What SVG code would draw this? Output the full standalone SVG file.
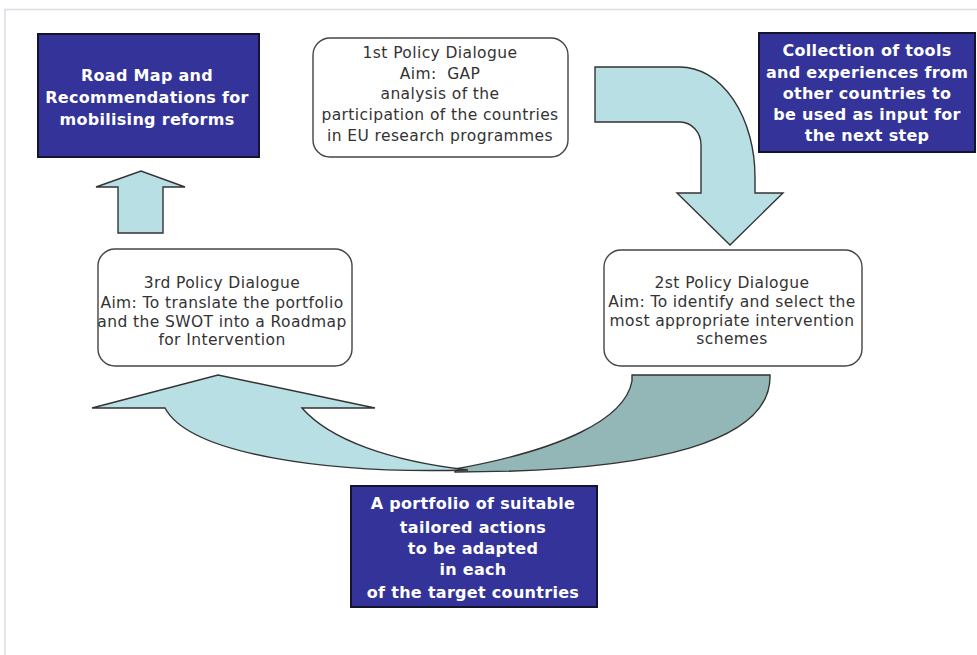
<svg xmlns="http://www.w3.org/2000/svg" width="977" height="655" viewBox="0 0 977 655">
<style>
.bg{fill:#ffffff}
.frame{fill:none;stroke:#d9dee6;stroke-width:1.5}
.blue{fill:#333399;stroke:#14142e;stroke-width:2}
.wt{font-family:"DejaVu Sans",sans-serif;font-weight:bold;font-size:16px;fill:#ffffff;text-anchor:middle;letter-spacing:0.3px}
.pd{fill:#ffffff;stroke:#444444;stroke-width:1.4}
.pt{font-family:"DejaVu Sans",sans-serif;font-size:15.5px;fill:#333333;text-anchor:middle;letter-spacing:0.4px}
.lt{fill:#b8dfe3;stroke:#333333;stroke-width:1.4;stroke-linejoin:miter}
.dk{fill:#93b6b7;stroke:#333333;stroke-width:1.4}
</style>
<rect class="bg" x="0" y="0" width="977" height="655"/>
<path class="frame" d="M5,655 L5,9.5 L977,9.5"/>

<g id="connectors">
  <polygon id="arrow-up" class="lt" points="118,233 118,187 96,187 141,171 185,187 163,187 163,233"/>
  <path id="arrow-down" class="lt" d="M595,67 L680,67 A75,110 0 0 1 755,177 L755,193 L783,193 L730,245 L677,193 L701,193 L701,145 A21,23 0 0 0 680,122 L595,122 Z"/>
  <path id="arrow-back-dark" class="dk" d="M455,469 C560,450 625,420 632,381 L632,375 L770,375 C772,440 660,472 455,472 Z"/>
  <path id="arrow-back-light" class="lt" d="M92,408 L218,375 L375,408 L302,408 C330,440 390,461 468,470 C330,474 190,455 165,408 Z"/>
</g>

<g id="node-roadmap">
  <rect class="blue" x="38" y="34" width="221" height="123"/>
  <text class="wt" x="147" y="81">Road Map and</text>
  <text class="wt" x="147" y="103">Recommendations for</text>
  <text class="wt" x="147" y="125">mobilising reforms</text>
</g>

<g id="node-pd1">
  <rect class="pd" x="313" y="38" width="255" height="119" rx="17"/>
  <text class="pt" x="440" y="58">1st Policy Dialogue</text>
  <text class="pt" x="440" y="79" xml:space="preserve">Aim:  GAP</text>
  <text class="pt" x="440" y="99">analysis of the</text>
  <text class="pt" x="440" y="120">participation of the countries</text>
  <text class="pt" x="440" y="141">in EU research programmes</text>
</g>

<g id="node-tools">
  <rect class="blue" x="759" y="33" width="216" height="119"/>
  <text class="wt" x="867" y="56">Collection of tools</text>
  <text class="wt" x="867" y="78">and experiences from</text>
  <text class="wt" x="867" y="99">other countries to</text>
  <text class="wt" x="867" y="120">be used as input for</text>
  <text class="wt" x="867" y="141">the next step</text>
</g>

<g id="node-pd3">
  <rect class="pd" x="98" y="249" width="254" height="117" rx="17"/>
  <text class="pt" x="222" y="288">3rd Policy Dialogue</text>
  <text class="pt" x="222" y="308">Aim: To translate the portfolio</text>
  <text class="pt" x="222" y="327">and the SWOT into a Roadmap</text>
  <text class="pt" x="222" y="345">for Intervention</text>
</g>

<g id="node-pd2">
  <rect class="pd" x="604" y="250" width="258" height="116" rx="17"/>
  <text class="pt" x="732" y="288">2st Policy Dialogue</text>
  <text class="pt" x="732" y="307">Aim: To identify and select the</text>
  <text class="pt" x="732" y="326">most appropriate intervention</text>
  <text class="pt" x="732" y="344">schemes</text>
</g>

<g id="node-portfolio">
  <rect class="blue" x="351" y="486" width="246" height="121"/>
  <text class="wt" x="473" y="509">A portfolio of suitable</text>
  <text class="wt" x="473" y="533">tailored actions</text>
  <text class="wt" x="473" y="554">to be adapted</text>
  <text class="wt" x="473" y="575">in each</text>
  <text class="wt" x="473" y="598">of the target countries</text>
</g>
</svg>
